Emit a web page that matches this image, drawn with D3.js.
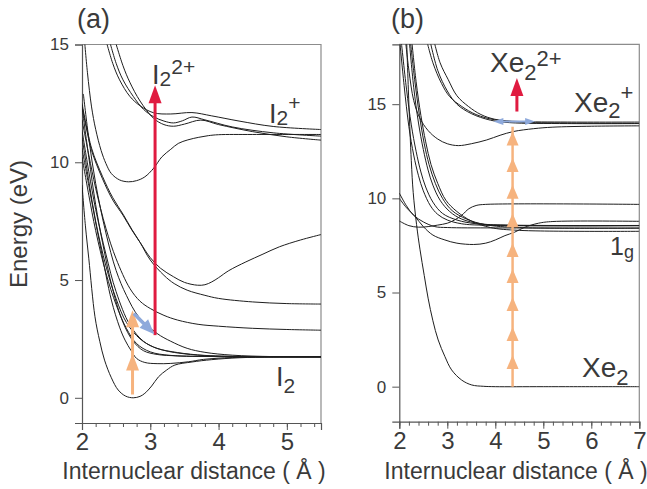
<!DOCTYPE html>
<html><head><meta charset="utf-8">
<script src="https://cdnjs.cloudflare.com/ajax/libs/d3/7.8.5/d3.min.js"></script>
<style>
body{margin:0;background:#fff;}
text{font-family:"Liberation Sans",Arial,Helvetica,sans-serif;fill:#3a3a3a;}
</style></head>
<body><svg id="c" width="647" height="489"></svg>
<script>
// ---------- Panel (a): I2 ----------
const aXTicks = [2,3,4,5];
const aYTicks = [0,5,10,15];
const aGround = [[2.0,9.03],[2.05,7.3],[2.1,5.9],[2.19,3.44],[2.26,2.4],[2.33,1.6],[2.43,0.85],[2.53,0.33],[2.64,0.07],[2.75,0],[2.85,0.06],[2.92,0.19],[3.02,0.5],[3.12,0.89],[3.24,1.18],[3.36,1.39],[3.61,1.52],[3.9,1.62],[4.3,1.7],[4.8,1.73],[5.5,1.74]];
const aWellLow = [[2.0,10.6],[2.1,9.0],[2.19,7.6],[2.28,6.27],[2.43,4.15],[2.55,3.0],[2.63,2.45],[2.72,2.0],[2.8,1.67],[2.92,1.5],[3.1,1.45],[3.3,1.46],[3.56,1.53],[3.78,1.63],[4.2,1.71],[4.8,1.74],[5.5,1.74]];
const aRep1 = [[2.0,12.35],[2.1,10.2],[2.2,8.2],[2.3,6.6],[2.45,4.6],[2.6,3.2],[2.75,2.4],[2.9,2.0],[3.1,1.84],[3.4,1.78],[4.0,1.75],[5.5,1.74]];
const aRep2 = [[2.0,11.36],[2.1,9.6],[2.2,8.0],[2.35,6.1],[2.5,4.5],[2.7,3.1],[2.9,2.4],[3.1,2.1],[3.4,1.92],[3.8,1.8],[4.5,1.75],[5.5,1.74]];
const aRep3 = [[2.02,12.9],[2.1,11.0],[2.2,9.1],[2.35,7.0],[2.5,5.4],[2.65,4.35],[2.83,3.44],[3.1,2.73],[3.3,2.4],[3.54,2.1],[3.8,1.93],[4.2,1.81],[4.8,1.75],[5.5,1.74]];
const aRep4 = [[2.0,10.23],[2.1,8.6],[2.2,7.1],[2.35,5.3],[2.5,3.95],[2.65,2.95],[2.8,2.3],[3.0,1.95],[3.3,1.8],[4.0,1.75],[5.5,1.74]];
const aRep5 = [[2.0,11.08],[2.1,9.2],[2.2,7.5],[2.35,5.6],[2.5,4.2],[2.65,3.2],[2.85,2.5],[3.05,2.15],[3.22,2.0],[3.41,1.9],[3.8,1.79],[4.4,1.75],[5.5,1.74]];
const aLevel29 = [[2.0,11.8],[2.1,10.3],[2.2,8.9],[2.35,7.2],[2.5,5.9],[2.7,4.65],[2.85,4.1],[3.0,3.79],[3.2,3.5],[3.4,3.3],[3.7,3.12],[4.0,3.04],[4.5,2.95],[5.0,2.9],[5.5,2.87]];
const aLevel40 = [[2.0,12.5],[2.14,10.6],[2.3,9.4],[2.45,8.5],[2.6,7.8],[2.73,7.15],[2.85,6.6],[3.0,5.85],[3.2,5.2],[3.35,4.85],[3.54,4.57],[3.8,4.35],[4.0,4.22],[4.5,4.07],[5.0,4.0],[5.5,3.98]];
const aWell48 = [[2.0,12.4],[2.06,11.5],[2.14,10.5],[2.3,9.3],[2.45,8.4],[2.6,7.75],[2.73,7.12],[2.85,6.6],[3.0,5.95],[3.15,5.5],[3.34,5.14],[3.5,4.9],[3.69,4.78],[3.8,4.8],[3.9,4.92],[4.0,5.1],[4.15,5.4],[4.4,5.77],[4.65,6.1],[4.89,6.41],[5.2,6.7],[5.5,6.93]];
const aIonWell = [[2.03,15.4],[2.08,13.8],[2.14,12.35],[2.2,11.4],[2.28,10.5],[2.35,9.95],[2.43,9.52],[2.55,9.25],[2.68,9.17],[2.8,9.22],[2.92,9.38],[3.05,9.75],[3.17,10.23],[3.3,10.55],[3.41,10.8],[3.55,10.95],[3.71,11.06],[3.85,11.13],[4.0,11.17],[4.5,11.18],[5.5,11.18]];
const aIon1 = [[2.33,15.4],[2.45,14.2],[2.55,13.5],[2.7,12.8],[2.85,12.4],[3.05,12.1],[3.3,12.05],[3.61,12.11],[3.9,11.97],[4.3,11.75],[4.8,11.52],[5.5,11.39]];
const aIon2 = [[2.38,15.4],[2.5,14.2],[2.6,13.5],[2.75,12.8],[2.9,12.25],[3.05,11.93],[3.2,11.75],[3.34,11.67],[3.47,11.76],[3.61,11.92],[3.8,11.8],[4.2,11.5],[4.8,11.25],[5.5,11.11]];
const aIon3 = [[2.46,15.4],[2.6,14.1],[2.7,13.4],[2.85,12.6],[3.05,11.86],[3.2,11.6],[3.34,11.53],[3.5,11.62],[3.74,11.79],[4.0,11.6],[4.5,11.3],[5.0,11.08],[5.5,10.94]];
const aCurves = [aGround,aWellLow,aRep1,aRep2,aRep3,aRep4,aRep5,aLevel29,aLevel40,aWell48,aIonWell,aIon1,aIon2,aIon3];
// arrows (R, E)
const aPhotonR = 2.74, aPhotonFrom = 0.14, aPhotonTips = [1.88, 3.72];
const aBlue = [[2.76,3.58],[3.06,2.7]];
const aRedR = 3.07, aRedFrom = 2.66, aRedTip = 13.27;

// ---------- Panel (b): Xe2 ----------
const bXTicks = [2,3,4,5,6,7];
const bYTicks = [0,5,10,15];
const bGround = [[2.15,18.6],[2.2,15.0],[2.25,12.0],[2.29,10.3],[2.36,8.6],[2.43,7.3],[2.52,5.9],[2.6,4.7],[2.7,3.5],[2.81,2.48],[2.95,1.6],[3.09,0.89],[3.3,0.35],[3.51,0.09],[3.75,0.02],[4.0,0],[5.0,0],[7.0,0]];
const bIonWell = [[2.12,18.6],[2.2,16.8],[2.3,15.2],[2.42,14.3],[2.6,13.6],[2.8,13.15],[3.0,12.9],[3.23,12.8],[3.5,12.9],[3.82,13.1],[4.1,13.35],[4.38,13.55],[4.8,13.7],[5.2,13.78],[6.0,13.83],[7.0,13.85]];
const bIon1 = [[2.55,18.6],[2.7,17.2],[2.88,16.1],[3.05,15.4],[3.3,14.88],[3.6,14.45],[3.99,14.17],[4.5,14.08],[5.5,14.05],[7.0,14.05]];
const bIon2 = [[2.7,18.6],[2.85,17.2],[3.02,16.3],[3.2,15.45],[3.44,14.88],[3.7,14.45],[3.99,14.2],[4.5,14.05],[5.5,14.0],[7.0,13.98]];
const bIon3 = [[2.62,18.6],[2.8,16.8],[3.0,15.7],[3.2,15.0],[3.5,14.5],[3.9,14.15],[4.3,14.02],[5.5,13.97],[7.0,13.97]];
const bRep1 = [[2.0,18.6],[2.1,16.0],[2.2,13.8],[2.3,12.3],[2.4,11.2],[2.5,10.4],[2.65,9.6],[2.8,9.15],[3.0,8.85],[3.3,8.65],[3.8,8.57],[7.0,8.55]];
const bRep2 = [[2.03,18.6],[2.15,15.8],[2.25,13.9],[2.35,12.5],[2.45,11.4],[2.55,10.6],[2.7,9.8],[2.9,9.2],[3.2,8.85],[3.6,8.65],[4.2,8.57],[7.0,8.55]];
const bRep3 = [[2.2,18.6],[2.3,15.9],[2.4,14.0],[2.5,12.6],[2.6,11.5],[2.7,10.7],[2.85,9.9],[3.05,9.3],[3.3,8.9],[3.7,8.65],[4.3,8.58],[7.0,8.56]];
const bRep4 = [[2.22,18.6],[2.32,16.3],[2.42,14.4],[2.52,12.9],[2.62,11.8],[2.75,10.8],[2.9,10.0],[3.1,9.35],[3.4,8.9],[3.8,8.6],[4.5,8.45],[7.0,8.42]];
const bRep5 = [[2.25,18.6],[2.35,16.2],[2.45,14.4],[2.55,13.0],[2.66,11.8],[2.8,10.8],[2.97,9.9],[3.2,9.3],[3.5,8.8],[3.9,8.45],[4.5,8.3],[7.0,8.25]];
const bWell = [[2.0,10.0],[2.15,9.5],[2.33,9.03],[2.5,8.5],[2.7,8.05],[2.95,7.79],[3.2,7.62],[3.55,7.55],[3.8,7.62],[4.0,7.79],[4.2,8.02],[4.4,8.2],[4.6,8.45],[4.9,8.68],[5.2,8.77],[7.0,8.78]];
const bUp = [[2.0,8.8],[2.2,8.55],[2.4,8.47],[2.6,8.5],[2.8,8.58],[3.0,8.68],[3.15,8.85],[3.3,9.1],[3.45,9.45],[3.6,9.62],[3.8,9.68],[7.0,9.68]];
const bEdge = [[2.0,10.28],[2.15,9.6],[2.3,9.1],[2.5,8.75],[2.74,8.5],[3.0,8.45],[4.0,8.43],[7.0,8.42]];
const bCurves = [bGround,bIonWell,bIon1,bIon2,bIon3,bRep1,bRep2,bRep3,bRep4,bRep5,bWell,bUp,bEdge];
const bPhotonR = 4.36, bPhotonFrom = 0, bPhotonTo = 13.8;
const bPhotonTips = [1.68,3.17,4.76,6.25,7.63,9.21,10.72,12.14,13.55];
const bBlue = [[3.96,14.08],[4.83,14.08]];
const bRedR = 4.45, bRedFrom = 14.61, bRedTip = 16.39;

const RED = "#e01b40", ORANGE = "#f6b37e", BLUE = "#8ea9db";
const svg = d3.select("#c");

function setupPanel(id, box, xDom, yDom, xTicks, yTicks){
  const x = d3.scaleLinear().domain(xDom).range([box.l, box.r]);
  const y = d3.scaleLinear().domain(yDom).range([box.b, box.t]);
  const g = svg.append("g");
  g.append("clipPath").attr("id","clip"+id).append("rect")
    .attr("x",box.l).attr("y",box.t).attr("width",box.r-box.l).attr("height",box.b-box.t);
  g.append("path").attr("d",`M${box.l},${box.t}H${box.r}V${box.b}`)
    .attr("fill","none").attr("stroke","#8c8c8c").attr("stroke-width",1.2);
  const minor = d3.range(xDom[0], xDom[1]+1e-9, 0.2);
  g.append("g").attr("transform",`translate(0,${box.b})`)
    .call(d3.axisBottom(x).tickValues(minor).tickSize(4).tickFormat(""))
    .call(s=>{s.select(".domain").remove(); s.selectAll("line").attr("stroke","#555");});
  const xa = g.append("g").attr("transform",`translate(0,${box.b})`)
    .call(d3.axisBottom(x).tickValues(xTicks).tickSize(7).tickPadding(3).tickFormat(d3.format("d")));
  xa.select(".domain").attr("stroke","#555").attr("stroke-width",1.2);
  xa.selectAll("line").attr("stroke","#555");
  xa.selectAll("text").attr("font-size",24).attr("font-family","Liberation Sans, Arial").attr("fill","#3a3a3a");
  const ya = g.append("g").attr("transform",`translate(${box.l},0)`)
    .call(d3.axisLeft(y).tickValues(yTicks).tickSize(7).tickPadding(6).tickFormat(d3.format("d")));
  ya.select(".domain").attr("stroke","#555").attr("stroke-width",1.2);
  ya.selectAll("line").attr("stroke","#555");
  ya.selectAll("text").attr("font-size",17).attr("font-family","Liberation Sans, Arial").attr("fill","#3a3a3a");
  return {x,y,g,clip:"url(#clip"+id+")"};
}

const line = (x,y)=>d3.line().x(d=>x(d[0])).y(d=>y(d[1])).curve(d3.curveCatmullRom.alpha(0.5));

function drawCurves(P, curves){
  const cg = P.g.append("g").attr("clip-path",P.clip);
  cg.selectAll("path.c").data(curves).join("path").attr("class","c")
    .attr("d", line(P.x,P.y)).attr("fill","none").attr("stroke","#1e1e1e").attr("stroke-width",1);
}

function triUp(g, cx, tipY, len, w, color){
  g.append("path").attr("d",`M${cx},${tipY}L${cx-w/2},${tipY+len}L${cx+w/2},${tipY+len}Z`).attr("fill",color);
}
function arrowHead(g, x1,y1,x2,y2,len,w,color){
  const a = Math.atan2(y2-y1,x2-x1), c=Math.cos(a), s=Math.sin(a);
  const bx = x2-len*c, by = y2-len*s;
  g.append("path").attr("d",`M${x2},${y2}L${bx - s*w/2},${by + c*w/2}L${bx + s*w/2},${by - c*w/2}Z`).attr("fill",color);
}

// ----- Panel a -----
const A = setupPanel("a",{l:82,r:321,t:44.5,b:423},[2,5.5],[-1.07,15],aXTicks,aYTicks);
drawCurves(A,aCurves);
A.g.append("line").attr("x1",A.x(aRedR)).attr("x2",A.x(aRedR))
  .attr("y1",A.y(aRedFrom)).attr("y2",A.y(aRedTip)+16).attr("stroke",RED).attr("stroke-width",3);
triUp(A.g, A.x(aRedR), A.y(aRedTip), 18, 13, RED);
A.g.append("line").attr("x1",A.x(aPhotonR)).attr("x2",A.x(aPhotonR))
  .attr("y1",A.y(aPhotonFrom)).attr("y2",A.y(aPhotonTips[aPhotonTips.length-1])+10).attr("stroke",ORANGE).attr("stroke-width",3);
aPhotonTips.forEach(t=>triUp(A.g, A.x(aPhotonR), A.y(t), 17, 13, ORANGE));
{
  const x1=A.x(aBlue[0][0]), y1=A.y(aBlue[0][1]), x2=A.x(aBlue[1][0]), y2=A.y(aBlue[1][1]);
  const a=Math.atan2(y2-y1,x2-x1);
  A.g.append("line").attr("x1",x1).attr("y1",y1).attr("x2",x2-12*Math.cos(a)).attr("y2",y2-12*Math.sin(a))
    .attr("stroke",BLUE).attr("stroke-width",3.5);
  arrowHead(A.g,x1,y1,x2,y2,15,12,BLUE);
}

// ----- Panel b -----
const B = setupPanel("b",{l:399.3,r:639.3,t:44.3,b:421.7},[2,7],[-1.86,18.18],bXTicks,bYTicks);
drawCurves(B,bCurves);
B.g.append("line").attr("x1",B.x(bPhotonR)).attr("x2",B.x(bPhotonR))
  .attr("y1",B.y(bPhotonFrom)).attr("y2",B.y(bPhotonTo)).attr("stroke",ORANGE).attr("stroke-width",2.5);
bPhotonTips.forEach(t=>triUp(B.g, B.x(bPhotonR), B.y(t), 14, 12, ORANGE));
B.g.append("line").attr("x1",B.x(bRedR)).attr("x2",B.x(bRedR))
  .attr("y1",B.y(bRedFrom)).attr("y2",B.y(bRedTip)+16).attr("stroke",RED).attr("stroke-width",3);
triUp(B.g, B.x(bRedR), B.y(bRedTip), 18, 13, RED);
{
  const x1=B.x(bBlue[0][0]), x2=B.x(bBlue[1][0]), yy=B.y(bBlue[0][1]);
  B.g.append("line").attr("x1",x1+6).attr("x2",x2-6).attr("y1",yy).attr("y2",yy).attr("stroke",BLUE).attr("stroke-width",2);
  arrowHead(B.g,x2,yy,x1,yy,10,7,BLUE);
  arrowHead(B.g,x1,yy,x2,yy,10,7,BLUE);
}

// ----- Texts -----
function label(x,y,size,parts){
  const t = svg.append("text").attr("x",x).attr("y",y).attr("font-size",size);
  parts.forEach(p=>{
    const s = t.append("tspan").text(p.t);
    if(p.s) s.attr("font-size",p.s);
    if(p.dy) s.attr("dy",p.dy);
  });
}
label(77,28,27,[{t:"(a)"}]);
label(391,28,27,[{t:"(b)"}]);
label(152,84,27,[{t:"I"},{t:"2",s:21,dy:2},{t:"2+",s:21,dy:-12}]);
label(269,123,27,[{t:"I"},{t:"2",s:21,dy:2},{t:"+",s:21,dy:-15}]);
label(276,386,27,[{t:"I"},{t:"2",s:21,dy:7}]);
label(490,72,28,[{t:"Xe"},{t:"2",s:22,dy:8},{t:"2+",s:22,dy:-14}]);
label(574,112,28,[{t:"Xe"},{t:"2",s:22,dy:6},{t:"+",s:22,dy:-18}]);
label(582,377,28,[{t:"Xe"},{t:"2",s:22,dy:8}]);
label(610,255,25,[{t:"1"},{t:"g",s:18,dy:3}]);

svg.append("text").attr("x",194).attr("y",479).attr("text-anchor","middle").attr("font-size",23)
  .text("Internuclear distance ( Å )");
svg.append("text").attr("x",516).attr("y",479).attr("text-anchor","middle").attr("font-size",23)
  .text("Internuclear distance ( Å )");
svg.append("text").attr("transform","translate(27,224) rotate(-90)").attr("text-anchor","middle").attr("font-size",24)
  .text("Energy (eV)");
</script></body></html>
